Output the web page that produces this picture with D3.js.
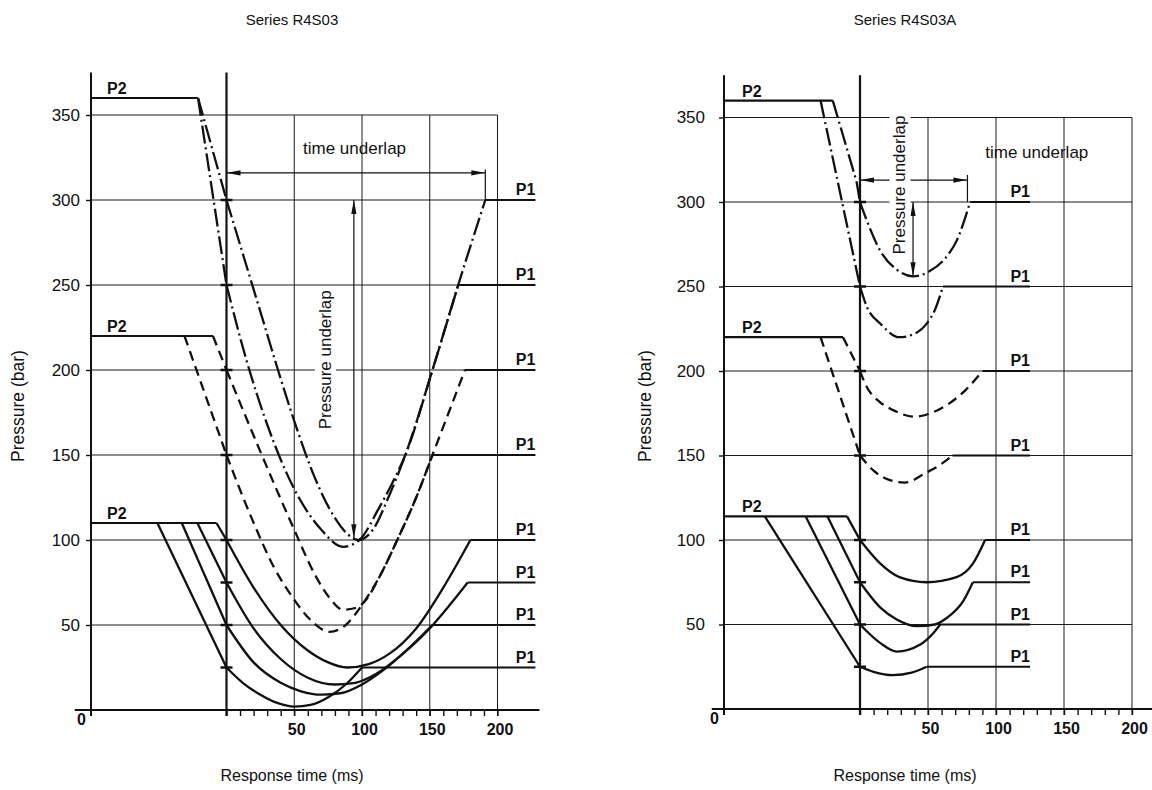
<!DOCTYPE html>
<html>
<head>
<meta charset="utf-8">
<title>R4S03 pressure underlap</title>
<script src="https://cdn.jsdelivr.net/npm/d3@7/dist/d3.min.js"></script>
<style>
  html, body { margin: 0; padding: 0; background: #fff; }
  svg { display: block; }
  text { font-family: "Liberation Sans", Arial, Helvetica, sans-serif; fill: #111; }
  .grid line { stroke: #1a1a1a; stroke-width: 1; }
  .frame { stroke: #111; stroke-width: 2; }
  .frame.zero { stroke-width: 2.2; }
  .curve { fill: none; stroke: #111; stroke-width: 2.3; stroke-linejoin: round; }
  .curve.dashdot { stroke-dasharray: 18 4 2 4; }
  .curve.dashed { stroke-dasharray: 10 6; }
  .p-line { stroke: #111; stroke-width: 1.8; }
  .cross { stroke: #111; stroke-width: 2.5; }
  .note-line { stroke: #111; stroke-width: 1.2; fill: none; }
  .axis path { display: none; }
  .axis line { stroke: #111; stroke-width: 1.4; }
  .axis text { font-family: "Liberation Sans", Arial, sans-serif; font-size: 17px; fill: #111; }
  .x-labels text { font-size: 16px; font-weight: bold; }
  .origin { font-size: 16px; font-weight: bold; }
  .tag { font-size: 16px; font-weight: bold; }
  .note { font-size: 17px; }
  .title { font-size: 15px; }
  .axis-title { font-size: 16px; }
  .axis-title.vertical { font-size: 17.5px; }
</style>
</head>
<body>
<svg id="chart" width="1152" height="790"></svg>
<script>
// ── Scales shared by both panels ──────────────────────────────────
var TIME_DOMAIN = [-100, 200];
var PRESSURE_DOMAIN = [0, 350];
var TIME_LABELS = [50, 100, 150, 200];
var TIME_GRID = [50, 100, 150, 200];
var TIME_MINOR_TICKS = [0, 10, 20, 30, 40, 50, 60, 70, 80, 90, 100, 110, 120, 130, 140, 150, 160, 170, 180, 190, 200];
var PRESSURE_LABELS = [50, 100, 150, 200, 250, 300, 350];
var PRESSURE_GRID = [50, 100, 150, 200, 250, 300, 350];

// ── Series R4S03 : [time ms, pressure bar] ────────────────────────
var r4s03_360_300 = [[-21, 360], [0, 300], [27, 229], [38, 200], [50, 170], [65, 137], [80, 113], [90, 103], [97, 100], [108, 106], [120, 126], [132, 150], [152, 200], [171, 250], [191, 300]];
var r4s03_360_250 = [[-21, 360], [0, 250], [15, 205], [30, 168], [50, 130], [70, 106], [86, 96], [98, 100], [112, 118], [122, 133], [132, 150], [152, 200], [171, 250]];
var r4s03_220_200 = [[-10, 220], [0, 200], [25, 152], [50, 106], [65, 80], [76, 66], [86, 59], [95, 60], [101, 63], [114, 80], [126, 100], [140, 125], [152, 150], [164, 175], [176, 200]];
var r4s03_220_150 = [[-31, 220], [0, 150], [19, 112], [35, 84], [49, 66], [62, 53], [76, 46], [88, 50], [101, 63], [114, 80], [126, 100], [140, 125], [152, 150]];
var r4s03_110_100 = [[-7.4, 110], [0, 100], [20, 72], [40, 50], [60, 35], [75, 28], [89, 25], [105, 27], [120, 33], [140, 48], [160, 72], [180, 100]];
var r4s03_110_75 = [[-21.5, 110], [0, 75], [20, 48], [40, 30], [60, 19], [80, 15], [95, 16], [110, 21], [130, 33], [150, 48], [165, 62], [178, 75]];
var r4s03_110_50 = [[-33, 110], [0, 50], [20, 28], [40, 16], [55, 11], [70, 9], [85, 10], [100, 15], [115, 23], [130, 33], [152, 50]];
var r4s03_110_25 = [[-51, 110], [0, 25], [12, 16], [25, 9], [38, 4], [50, 2], [62, 3], [76, 8], [88, 15], [100, 25]];

// ── Series R4S03A ─────────────────────────────────────────────────
var r4s03a_360_300 = [[-20, 360], [-2.5, 312], [0, 300], [5, 289], [15, 271], [27, 260], [39, 256], [51, 259], [63, 267], [71, 277], [81, 300]];
var r4s03a_360_250 = [[-29, 360], [0, 250], [5, 238], [15, 228], [29, 220], [40, 222], [49, 228], [55, 236], [61, 250]];
var r4s03a_220_200 = [[-12.5, 220], [0, 200], [5, 190.5], [14, 182], [24, 177], [40, 173], [55, 176], [66, 181], [78, 189], [90, 200]];
var r4s03a_220_150 = [[-29, 220], [0, 150], [10, 141], [20, 136], [33, 134], [49, 140], [58, 144], [68, 150]];
var r4s03a_114_100 = [[-9.5, 114], [0, 100], [15, 86], [29, 78], [49, 75], [71, 78], [83, 86], [92, 100]];
var r4s03a_114_75 = [[-24, 114], [0, 75], [15, 60], [27, 53], [42, 49], [55, 50], [64, 54], [76, 64], [83, 75]];
var r4s03a_114_50 = [[-40, 114], [0, 50], [15, 39], [27, 34], [44, 38], [54, 45], [59, 50]];
var r4s03a_114_25 = [[-70, 114], [0, 25], [10, 22], [24, 20], [38, 21.5], [49, 25]];

// ── Underlap annotations ──────────────────────────────────────────
var r4s03TimeUnderlap = [0, 191];          // ms
var r4s03PressureUnderlap = [300, 101];    // bar
var r4s03aTimeUnderlap = [0, 79];
var r4s03aPressureUnderlap = [300, 256];

var r4s03Groups = [
  { p2: 360, style: "dashdot", curves: [r4s03_360_300, r4s03_360_250] },
  { p2: 220, style: "dashed",  curves: [r4s03_220_200, r4s03_220_150] },
  { p2: 110, style: "solid",   curves: [r4s03_110_100, r4s03_110_75, r4s03_110_50, r4s03_110_25] }
];
var r4s03aGroups = [
  { p2: 360, style: "dashdot", curves: [r4s03a_360_300, r4s03a_360_250] },
  { p2: 220, style: "dashed",  curves: [r4s03a_220_200, r4s03a_220_150] },
  { p2: 114, style: "solid",   curves: [r4s03a_114_100, r4s03a_114_75, r4s03a_114_50, r4s03a_114_25] }
];

var svg = d3.select("#chart");

// ── Arrow marker ──────────────────────────────────────────────────
svg.append("defs")
  .append("marker")
  .attr("id", "arrow")
  .attr("viewBox", "0 -3 14 6")
  .attr("refX", 14)
  .attr("refY", 0)
  .attr("markerWidth", 14)
  .attr("markerHeight", 6)
  .attr("markerUnits", "userSpaceOnUse")
  .attr("orient", "auto-start-reverse")
  .append("path")
  .attr("d", "M0,-2.6L14,0L0,2.6Z")
  .attr("fill", "#111");

function knockoutText(parent, tx, ty, rotate, label, cls) {
  var holder = parent.append("g")
    .attr("transform", "translate(" + tx + "," + ty + ")" + (rotate ? " rotate(" + rotate + ")" : ""));
  var bg = holder.append("rect").attr("fill", "#fff");
  var t = holder.append("text")
    .attr("class", cls)
    .attr("text-anchor", "middle")
    .attr("dominant-baseline", "central")
    .text(label);
  var bb = t.node().getBBox();
  bg.attr("x", bb.x - 3).attr("y", bb.y - 1).attr("width", bb.width + 6).attr("height", bb.height + 2);
  return holder;
}

function drawPanel(cfg) {
  var x = d3.scaleLinear().domain(TIME_DOMAIN).range(cfg.xRange);
  var y = d3.scaleLinear().domain(PRESSURE_DOMAIN).range(cfg.yRange);
  var g = svg.append("g");

  // ── Grid ────────────────────────────────────────────────────────
  var grid = g.append("g").attr("class", "grid");
  grid.selectAll(".h").data(PRESSURE_GRID).enter().append("line")
    .attr("x1", x(TIME_DOMAIN[0])).attr("x2", x(TIME_DOMAIN[1]))
    .attr("y1", function (d) { return y(d); })
    .attr("y2", function (d) { return y(d); });
  grid.selectAll(".v").data(TIME_GRID).enter().append("line")
    .attr("x1", function (d) { return x(d); })
    .attr("x2", function (d) { return x(d); })
    .attr("y1", y(PRESSURE_DOMAIN[1]))
    .attr("y2", y(0) + 6);

  // ── Frame: pressure axis, switching instant, time axis ─────────
  g.append("line").attr("class", "frame")
    .attr("x1", x(TIME_DOMAIN[0])).attr("x2", x(TIME_DOMAIN[0]))
    .attr("y1", y(cfg.topPressure)).attr("y2", y(0) + 6);
  g.append("line").attr("class", "frame zero")
    .attr("x1", x(0)).attr("x2", x(0))
    .attr("y1", y(cfg.topPressure)).attr("y2", y(0) + 6);
  g.append("line").attr("class", "frame")
    .attr("x1", x(cfg.axisSpan[0])).attr("x2", x(cfg.axisSpan[1]))
    .attr("y1", y(0)).attr("y2", y(0));

  g.append("g").attr("class", "axis")
    .attr("transform", "translate(0," + y(0) + ")")
    .call(d3.axisBottom(x).tickValues(TIME_MINOR_TICKS).tickSize(6).tickFormat(""));
  g.append("g").attr("class", "axis x-labels")
    .attr("transform", "translate(0," + y(0) + ")")
    .call(d3.axisBottom(x).tickValues(TIME_LABELS).tickSize(0).tickPadding(14))
    .selectAll("text").attr("dx", 2);
  g.append("g").attr("class", "axis")
    .attr("transform", "translate(" + x(TIME_DOMAIN[0]) + ",0)")
    .call(d3.axisLeft(y).tickValues(PRESSURE_LABELS).tickSize(5).tickPadding(cfg.yTickPadding));
  g.append("text").attr("class", "origin")
    .attr("x", x(TIME_DOMAIN[0]) - 5).attr("y", y(0) + 15)
    .attr("text-anchor", "end").text("0");

  // ── Underlap annotations ───────────────────────────────────────
  var ta = cfg.timeArrow;
  g.append("line").attr("class", "note-line")
    .attr("x1", x(ta.span[0])).attr("x2", x(ta.span[1]))
    .attr("y1", y(ta.level)).attr("y2", y(ta.level))
    .attr("marker-start", "url(#arrow)")
    .attr("marker-end", "url(#arrow)");
  g.append("line").attr("class", "note-line")
    .attr("x1", x(ta.span[1])).attr("x2", x(ta.span[1]))
    .attr("y1", y(ta.tickTop)).attr("y2", y(ta.tickBottom));
  var pa = cfg.pressureArrow;
  g.append("line").attr("class", "note-line")
    .attr("x1", x(pa.at)).attr("x2", x(pa.at))
    .attr("y1", y(pa.span[0])).attr("y2", y(pa.span[1]))
    .attr("marker-start", "url(#arrow)")
    .attr("marker-end", "url(#arrow)");

  g.append("text").attr("class", "note")
    .attr("x", x(cfg.timeText[0])).attr("y", y(cfg.timeText[1]))
    .attr("text-anchor", "middle")
    .text("time underlap");
  knockoutText(g, x(cfg.pressureText[0]), y(cfg.pressureText[1]), -90, "Pressure underlap", "note");

  // ── Curves ─────────────────────────────────────────────────────
  // The valve ramp before the switching instant is drawn straight,
  // the recovery after it as a smooth curve.
  var ramp = d3.line()
    .x(function (d) { return x(d[0]); })
    .y(function (d) { return y(d[1]); });
  var recovery = d3.line()
    .x(function (d) { return x(d[0]); })
    .y(function (d) { return y(d[1]); })
    .curve(d3.curveMonotoneX);

  cfg.groups.forEach(function (grp) {
    var p2End = d3.max(grp.curves, function (c) { return c[0][0]; });
    g.append("line").attr("class", "p-line")
      .attr("x1", x(TIME_DOMAIN[0])).attr("x2", x(p2End))
      .attr("y1", y(grp.p2)).attr("y2", y(grp.p2))
      .style("stroke-width", 2.2);
    g.append("text").attr("class", "tag")
      .attr("x", x(TIME_DOMAIN[0]) + cfg.p2Inset).attr("y", y(grp.p2) - 4)
      .text("P2");

    grp.curves.forEach(function (pts) {
      var last = pts[pts.length - 1];
      var before = pts.filter(function (d) { return d[0] <= 0; });
      var after = pts.filter(function (d) { return d[0] >= 0; });
      g.append("path")
        .datum(before)
        .attr("class", "curve " + grp.style)
        .attr("d", ramp);
      g.append("path")
        .datum(after)
        .attr("class", "curve " + grp.style)
        .attr("d", recovery);
      g.append("line").attr("class", "p-line")
        .attr("x1", x(last[0])).attr("x2", x(cfg.p1End))
        .attr("y1", y(last[1])).attr("y2", y(last[1]));
      g.append("text").attr("class", "tag")
        .attr("x", x(cfg.p1End)).attr("y", y(last[1]) - 5)
        .attr("text-anchor", "end")
        .text("P1");
      g.append("line").attr("class", "cross")
        .attr("x1", x(0) - 6).attr("x2", x(0) + 6)
        .attr("y1", y(last[1])).attr("y2", y(last[1]));
    });
  });

  // ── Titles ─────────────────────────────────────────────────────
  g.append("text").attr("class", "title")
    .attr("x", cfg.titleX).attr("y", 25)
    .attr("text-anchor", "middle").text(cfg.title);
  g.append("text").attr("class", "axis-title")
    .attr("x", cfg.titleX).attr("y", 781)
    .attr("text-anchor", "middle").text("Response time (ms)");
  g.append("text").attr("class", "axis-title vertical")
    .attr("transform", "translate(" + cfg.yTitleX + ",406) rotate(-90)")
    .attr("text-anchor", "middle")
    .attr("dominant-baseline", "central")
    .text("Pressure (bar)");
}

drawPanel({
  title: "Series R4S03",
  titleX: 292,
  yTitleX: 18,
  xRange: [91, 497.5],
  yRange: [710, 115],
  groups: r4s03Groups,
  p1End: 228,
  p2Inset: 16,
  axisSpan: [-112, 231],
  topPressure: 375,
  yTickPadding: 6,
  timeArrow: { span: r4s03TimeUnderlap, level: 316, tickTop: 318, tickBottom: 300 },
  pressureArrow: { span: r4s03PressureUnderlap, at: 94 },
  timeText: [94.5, 327],
  pressureText: [73, 206]
});

drawPanel({
  title: "Series R4S03A",
  titleX: 905,
  yTitleX: 645,
  xRange: [724, 1132],
  yRange: [709, 117.5],
  groups: r4s03aGroups,
  p1End: 125,
  p2Inset: 18,
  axisSpan: [-109, 216],
  topPressure: 375,
  yTickPadding: 14,
  timeArrow: { span: r4s03aTimeUnderlap, level: 313, tickTop: 316, tickBottom: 300 },
  pressureArrow: { span: r4s03aPressureUnderlap, at: 39 },
  timeText: [130, 326],
  pressureText: [29.4, 310]
});
</script>
</body>
</html>
